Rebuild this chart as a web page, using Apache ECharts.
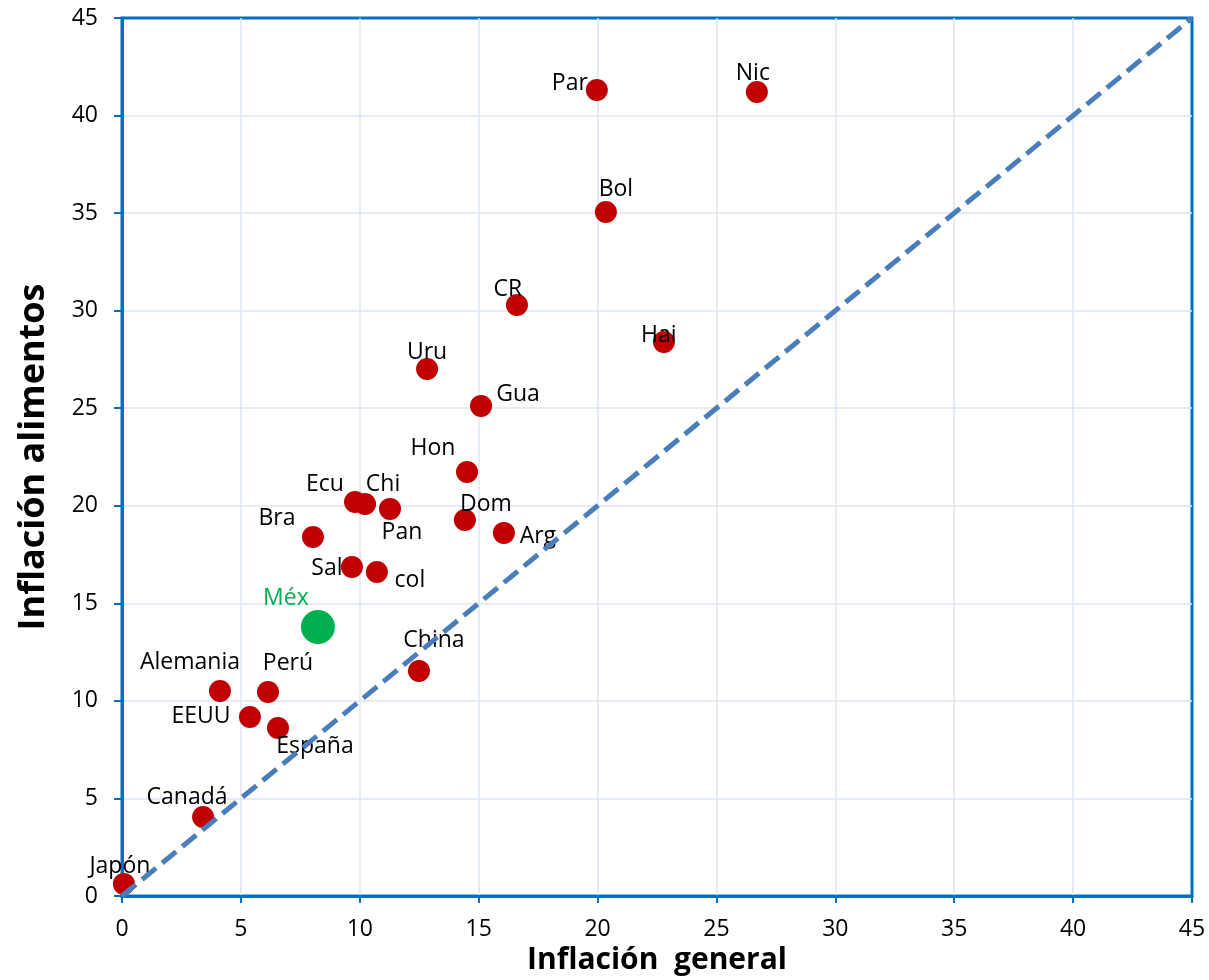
<!DOCTYPE html>
<html>
<head>
<meta charset="utf-8">
<script src="https://cdn.jsdelivr.net/npm/echarts@6/dist/echarts.min.js"></script>
<style>
  html, body { margin: 0; padding: 0; background: #fff; }
  #chart { width: 1209px; height: 980px; }
</style>
</head>
<body>
<div id="chart"></div>
<script>
// Inflación general (x) vs inflación de alimentos (y), por país
const countries = ['Par', 'Nic', 'Bol', 'CR', 'Hai', 'Uru', 'Gua', 'Hon', 'Ecu', 'Chi', 'Pan', 'Dom', 'Arg',
  'Bra', 'Sal', 'col', 'China', 'Alemania', 'Perú', 'EEUU', 'España', 'Canadá', 'Japón']
const inflGeneral = [19.97, 26.7, 20.35, 16.61, 22.79, 12.83, 15.1, 14.51, 9.8, 10.22, 11.27, 14.42, 16.06,
  8.03, 9.67, 10.72, 12.49, 4.12, 6.14, 5.38, 6.56, 3.41, 0.08]
const inflAlimentos = [41.31, 41.21, 35.06, 30.29, 28.4, 27.01, 25.12, 21.73, 20.19, 20.09, 19.84, 19.27, 18.61,
  18.4, 16.86, 16.61, 11.53, 10.51, 10.46, 9.17, 8.61, 4.05, 0.62]

// México se resalta aparte
const mexName = 'Méx'
const mexGeneral = 8.24
const mexAlimentos = 13.79

// línea de 45 grados
const diagonal = [[0, 0], [45, 45]]

// label placement (px offset from the dot centre), layout only
const labelOffset = {
  Par: [-27, -7], Nic: [-4, -18], Bol: [10, -22], CR: [-9, -16], Hai: [-5, -6], Uru: [0, -17],
  Gua: [37, -11], Hon: [-34, -24], Ecu: [-30, -18], Chi: [18, -20], Pan: [12, 24], Dom: [21, -16],
  Arg: [34, 4], Bra: [-36, -19], Sal: [-25, 1], col: [33, 9], China: [15, -31], Alemania: [-30, -28],
  'Perú': [20, -28], EEUU: [-49, -1], 'España': [37, 18], 'Canadá': [-16, -20], 'Japón': [-4, -17],
  'Méx': [-32, -28],
}

const AXIS = '#0070C0'
const GRID = '#DCE6F2'
const FONT = 'Open Sans'

const pointLabel = (name, color) => ({
  show: true,
  position: 'inside',
  offset: labelOffset[name],
  formatter: name,
  color,
  fontFamily: FONT,
  fontSize: 23,
})

const chart = echarts.init(document.getElementById('chart'))

chart.setOption({
  animation: false,
  backgroundColor: '#fff',
  textStyle: { fontFamily: FONT },
  grid: {
    left: 122, right: 17, top: 18, bottom: 84,
    outerBoundsMode: 'none',
    containLabel: false,
    show: true, borderColor: AXIS, borderWidth: 3, backgroundColor: 'transparent',
  },
  xAxis: {
    type: 'value',
    min: 0, max: 45, interval: 5,
    name: 'Inflación  general',
    nameLocation: 'middle',
    nameGap: 49,
    nameTextStyle: { fontFamily: FONT, fontSize: 30, fontWeight: 'bold', color: '#000' },
    axisLine: { show: true, lineStyle: { color: AXIS, width: 3 } },
    axisTick: { show: true, length: 7, lineStyle: { color: AXIS, width: 2 } },
    axisLabel: { color: '#000', fontSize: 23, fontFamily: FONT, margin: 22 },
    splitLine: { show: true, showMinLine: false, showMaxLine: false, lineStyle: { color: GRID, width: 1.5 } },
  },
  yAxis: {
    type: 'value',
    min: 0, max: 45, interval: 5,
    name: 'Inflación alimentos',
    nameLocation: 'middle',
    nameGap: 70,
    nameTextStyle: { fontFamily: FONT, fontSize: 36, fontWeight: 'bold', color: '#000' },
    axisLine: { show: true, lineStyle: { color: AXIS, width: 3 } },
    axisTick: { show: true, length: 8, lineStyle: { color: AXIS, width: 2 } },
    axisLabel: { color: '#000', fontSize: 23, fontFamily: FONT, margin: 24 },
    splitLine: { show: true, showMinLine: false, showMaxLine: false, lineStyle: { color: GRID, width: 1.5 } },
  },
  series: [
    {
      type: 'scatter',
      symbolSize: 22,
      itemStyle: { color: '#C00000', opacity: 1 },
      data: countries.map((c, i) => ({ name: c, value: [inflGeneral[i], inflAlimentos[i]], label: pointLabel(c, '#000') })),
      z: 2,
    },
    {
      type: 'scatter',
      symbolSize: 34,
      itemStyle: { color: '#00B050', opacity: 1 },
      data: [{ name: mexName, value: [mexGeneral, mexAlimentos], label: pointLabel(mexName, '#00B050') }],
      z: 2,
    },
    {
      type: 'line',
      data: diagonal,
      symbol: 'none',
      silent: true,
      lineStyle: { color: '#4A7EBB', width: 5, type: [18, 8] },
      z: 3,
    },
  ],
})
</script>
</body>
</html>
